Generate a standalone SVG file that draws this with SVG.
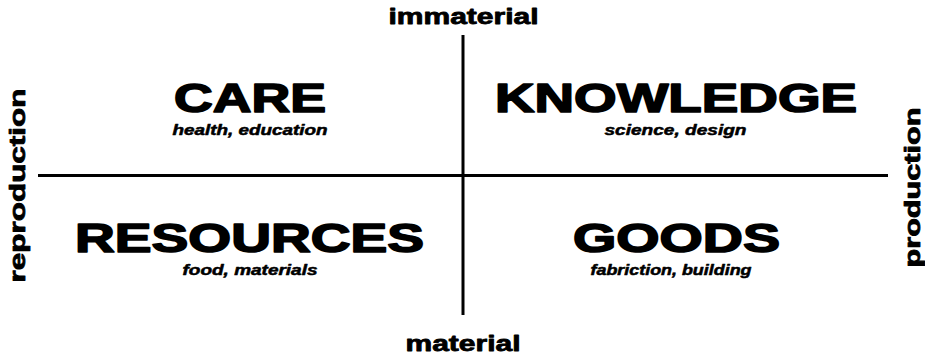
<svg xmlns="http://www.w3.org/2000/svg" width="925" height="355" viewBox="0 0 925 355">
<style>
text{font-family:"Liberation Sans",Arial,sans-serif;fill:#000;font-weight:bold;stroke:#000;stroke-linejoin:round}
.title{font-size:40px;text-anchor:middle;stroke-width:1.6}
.sub{font-size:14px;font-style:italic;text-anchor:middle;stroke-width:0.5}
.axis{font-size:22px;text-anchor:middle;stroke-width:0.8}
.line{stroke:#000;stroke-width:3;fill:none}
</style>
<rect width="925" height="355" fill="#fff"/>
<g id="connectors">
<line class="line" x1="38" y1="175.5" x2="888" y2="175.5"/>
<line class="line" x1="463" y1="35" x2="463" y2="315"/>
</g>
<g id="axis-immaterial"><text class="axis" x="463.5" y="24" textLength="150" lengthAdjust="spacingAndGlyphs">immaterial</text></g>
<g id="axis-material"><text class="axis" x="463" y="351" textLength="115" lengthAdjust="spacingAndGlyphs">material</text></g>
<g id="axis-reproduction"><text class="axis" transform="translate(25,185.5) rotate(-90)" x="0" y="0" textLength="194" lengthAdjust="spacingAndGlyphs">reproduction</text></g>
<g id="axis-production"><text class="axis" transform="translate(920,187.5) rotate(-90)" x="0" y="0" textLength="160" lengthAdjust="spacingAndGlyphs">production</text></g>
<g id="care">
<text class="title" x="250" y="112" textLength="152" lengthAdjust="spacingAndGlyphs">CARE</text>
<text class="sub" x="250" y="135" textLength="155" lengthAdjust="spacingAndGlyphs">health, education</text>
</g>
<g id="knowledge">
<text class="title" x="676" y="112" textLength="362" lengthAdjust="spacingAndGlyphs">KNOWLEDGE</text>
<text class="sub" x="675.5" y="135" textLength="142" lengthAdjust="spacingAndGlyphs">science, design</text>
</g>
<g id="resources">
<text class="title" x="249.5" y="252" textLength="349" lengthAdjust="spacingAndGlyphs">RESOURCES</text>
<text class="sub" x="250" y="275" textLength="135" lengthAdjust="spacingAndGlyphs">food, materials</text>
</g>
<g id="goods">
<text class="title" x="676.5" y="252" textLength="207" lengthAdjust="spacingAndGlyphs">GOODS</text>
<text class="sub" x="671" y="275" textLength="161" lengthAdjust="spacingAndGlyphs">fabriction, building</text>
</g>
</svg>
